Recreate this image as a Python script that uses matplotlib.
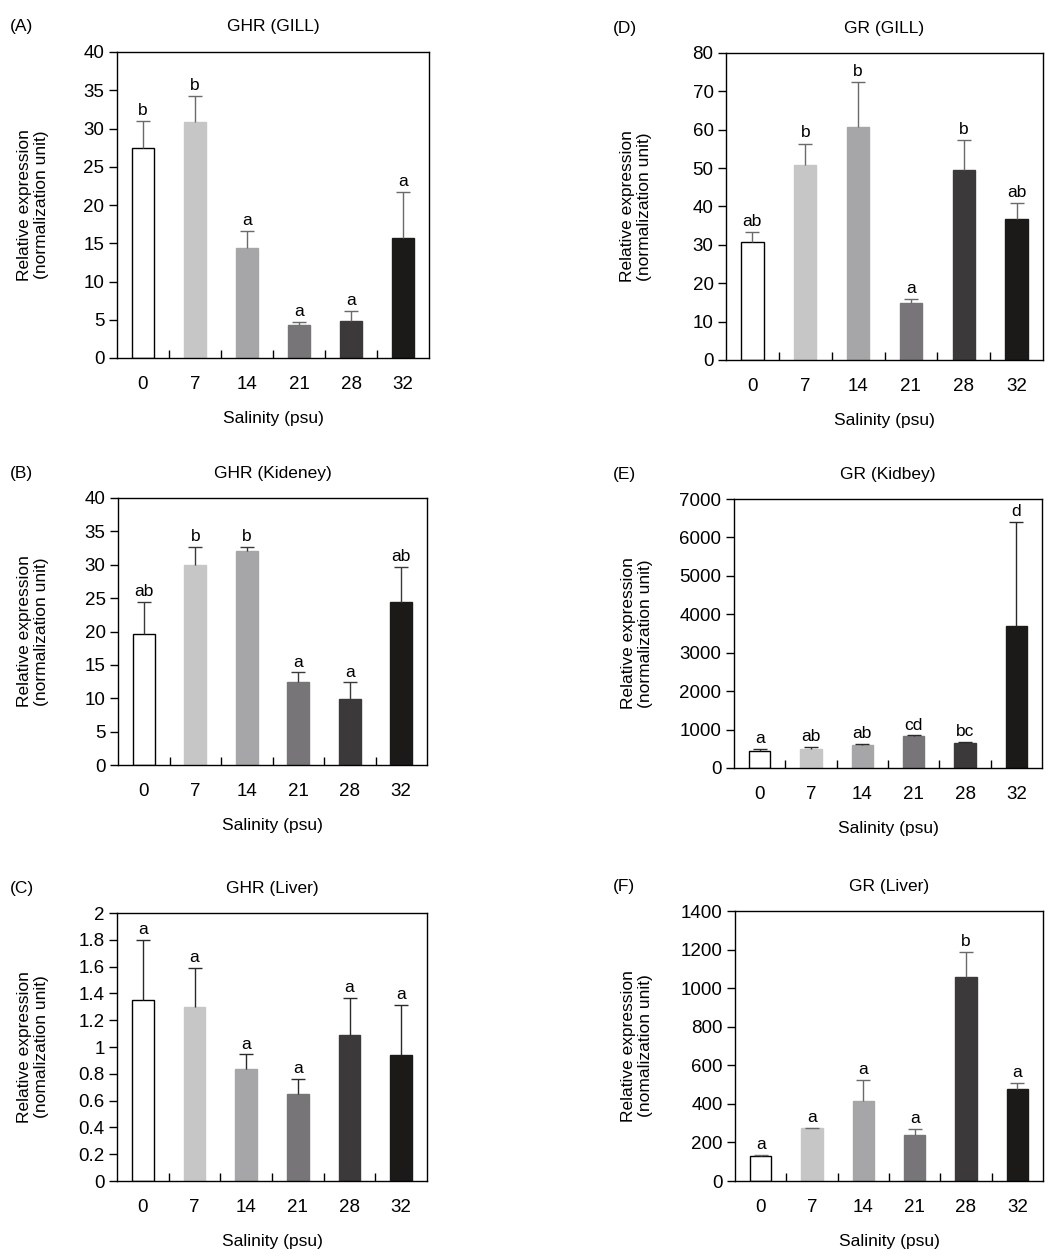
import matplotlib
matplotlib.use('Agg')
import matplotlib.pyplot as plt
from matplotlib.ticker import FuncFormatter
import numpy as np

plt.rcParams['font.family'] = ['Liberation Sans', 'DejaVu Sans']

salinity = ['0', '7', '14', '21', '28', '32']
colors = ['#ffffff', '#c6c6c6', '#a6a5a7', '#777578', '#3b393a', '#1b1a18']

# GHR gill
ghr_gill = [27.5, 30.8, 14.4, 4.35, 4.9, 15.65]
ghr_gill_err = [3.5, 3.4, 2.2, 0.35, 1.2, 6.05]
ghr_gill_sig = ['b', 'b', 'a', 'a', 'a', 'a']

# GHR kidney
ghr_kid = [19.7, 29.9, 32.0, 12.4, 9.9, 24.4]
ghr_kid_err = [4.7, 2.8, 0.7, 1.5, 2.5, 5.3]
ghr_kid_sig = ['ab', 'b', 'b', 'a', 'a', 'ab']

# GHR liver
ghr_liv = [1.35, 1.30, 0.837, 0.648, 1.091, 0.941]
ghr_liv_err = [0.448, 0.289, 0.109, 0.112, 0.274, 0.372]
ghr_liv_sig = ['a', 'a', 'a', 'a', 'a', 'a']

# GR gill
gr_gill = [30.7, 50.9, 60.8, 14.9, 49.6, 36.8]
gr_gill_err = [2.6, 5.5, 11.6, 0.9, 7.7, 4.1]
gr_gill_sig = ['ab', 'b', 'b', 'a', 'b', 'ab']

# GR kidney
gr_kid = [442, 503, 607, 841, 659, 3704]
gr_kid_err = [52, 43, 18, 6, 18, 2697]
gr_kid_sig = ['a', 'ab', 'ab', 'cd', 'bc', 'd']

# GR liver
gr_liv = [128, 273, 413, 237, 1056, 475]
gr_liv_err = [7, 4, 112, 34, 133, 35]
gr_liv_sig = ['a', 'a', 'a', 'a', 'b', 'a']

W, H = 1061, 1256
fig = plt.figure(figsize=(W / 100, H / 100), dpi=100)


def panel(box, tagx, ylabx, tag, title, vals, errs, sig, ymax, ystep, ylab, fmt, err_color):
    l, t, r, b = box
    ax = fig.add_axes([l / W, 1 - b / H, (r - l) / W, (b - t) / H])
    x = np.arange(len(vals))
    ax.bar(x, vals, width=0.42, color=colors, edgecolor=['black'] + colors[1:],
           linewidth=1, zorder=2)
    tops = np.array(vals) + np.array(errs)
    # upper-only error bars with a single cap
    ax.vlines(x, vals, tops, colors=err_color, linewidth=1, zorder=3)
    ax.plot(x, tops, ls='none', marker='_', markersize=10, markeredgewidth=1,
            color=err_color, zorder=3)
    for xi, tp, s in zip(x, tops, sig):
        ax.text(xi, tp + ymax * 0.01, s, ha='center', va='bottom', fontsize=12.5)
    ax.set_xlim(-0.5, 5.5)
    ax.set_ylim(0, ymax)
    ax.set_yticks(np.arange(0, ymax + ystep / 2, ystep))
    ax.yaxis.set_major_formatter(FuncFormatter(fmt))
    ax.set_xticks(x)
    ax.set_xticklabels(salinity)
    ax.set_xticks(np.arange(0.5, 5, 1), minor=True)
    ax.tick_params(axis='x', which='major', length=0, labelsize=13.5, pad=13)
    ax.tick_params(axis='x', which='minor', direction='in', length=6, width=1)
    ax.tick_params(axis='y', direction='out', length=6, width=1, labelsize=13.5, pad=3)
    for sp in ax.spines.values():
        sp.set_linewidth(1)
    ax.set_xlabel('Salinity (psu)', fontsize=12.5, labelpad=13)
    fig.text(ylabx / W, 1 - (t + b) / 2 / H, ylab, rotation=90, ha='center', va='center',
             multialignment='center', fontsize=12.5)
    fig.text((l + r) / 2 / W, 1 - (t - 25) / H, title, ha='center', va='center', fontsize=12.5)
    fig.text(tagx / W, 1 - (t - 25) / H, tag, ha='left', va='center', fontsize=12.5)
    return ax


lab1 = 'Relative expression\n(normalization unit)'
lab2 = 'Relative expression\n(nomalization unit)'
intfmt = lambda v, p: '%d' % v
gfmt = lambda v, p: '%g' % round(v, 2)

panel((117, 52, 429, 358), 10, 33, '(A)', 'GHR (GILL)', ghr_gill, ghr_gill_err, ghr_gill_sig,
      40, 5, lab1, intfmt, '#6a6a6a')
panel((118, 498, 427, 765), 10, 33, '(B)', 'GHR (Kideney)', ghr_kid, ghr_kid_err, ghr_kid_sig,
      40, 5, lab1, intfmt, '#3a3a3a')
panel((117, 913, 427, 1181), 10, 33, '(C)', 'GHR (Liver)', ghr_liv, ghr_liv_err, ghr_liv_sig,
      2, 0.2, lab2, gfmt, '#2a2a2a')
panel((726, 53, 1043, 360), 613, 636, '(D)', 'GR (GILL)', gr_gill, gr_gill_err, gr_gill_sig,
      80, 10, lab1, intfmt, '#6a6a6a')
panel((734, 499, 1042, 768), 613, 637, '(E)', 'GR (Kidbey)', gr_kid, gr_kid_err, gr_kid_sig,
      7000, 1000, lab1, intfmt, '#2a2a2a')
panel((735, 911, 1043, 1181), 613, 637, '(F)', 'GR (Liver)', gr_liv, gr_liv_err, gr_liv_sig,
      1400, 200, lab2, intfmt, '#6a6a6a')

fig.savefig('out.png', dpi=100)
